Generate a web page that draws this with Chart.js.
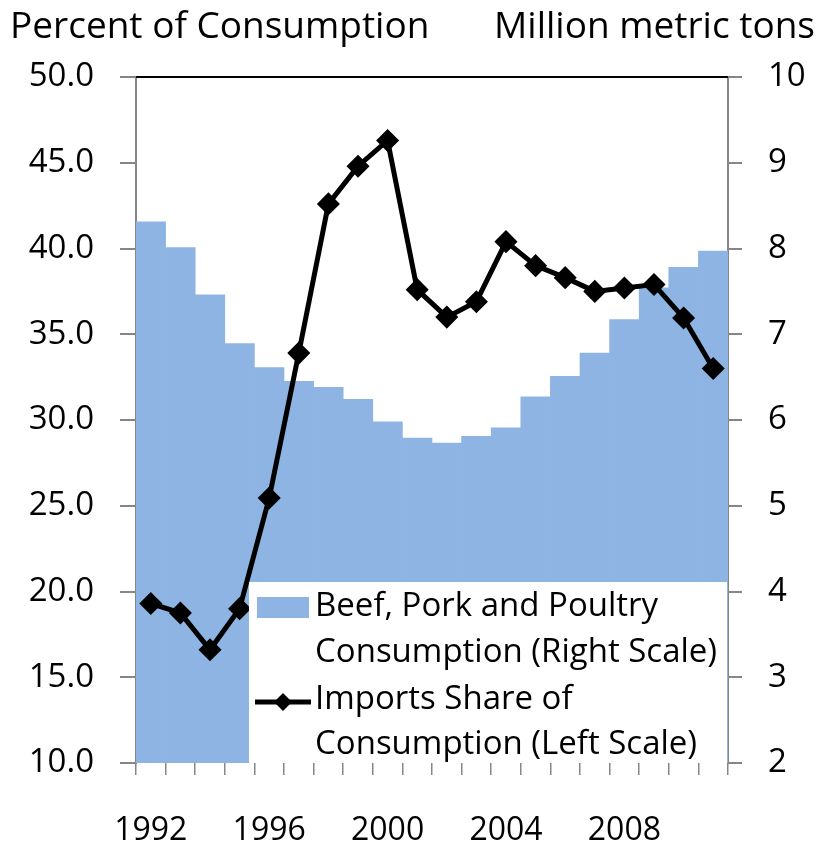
<!DOCTYPE html>
<html>
<head>
<meta charset="utf-8">
<script src="https://cdn.jsdelivr.net/npm/chart.js@4.4.1/dist/chart.umd.min.js"></script>
<style>
  html, body { margin: 0; padding: 0; background: #fff; }
  #wrap { width: 821px; height: 849px; }
</style>
</head>
<body>
<div id="wrap"><canvas id="grafico" width="821" height="849"></canvas></div>
<script>
// años y valores
var years = ['1992','1993','1994','1995','1996','1997','1998','1999','2000','2001',
             '2002','2003','2004','2005','2006','2007','2008','2009','2010','2011'];
// consumo de carne, millones de toneladas (escala derecha)
var consumption = [8.31, 8.01, 7.46, 6.89, 6.61, 6.45, 6.38, 6.24, 5.98, 5.79,
                   5.73, 5.81, 5.91, 6.27, 6.51, 6.78, 7.17, 7.54, 7.78, 7.97];
// importaciones como % del consumo (escala izquierda)
var importsShare = [19.3, 18.75, 16.6, 19.0, 25.45, 33.9, 42.6, 44.8, 46.3, 37.6,
                    36.0, 36.9, 40.4, 39.0, 38.3, 37.5, 37.7, 37.9, 35.95, 33.0];
var leftTitle = 'Percent of Consumption';
var rightTitle = 'Million metric tons';
var legendBars = ['Beef, Pork and Poultry', 'Consumption (Right Scale)'];
var legendLine = ['Imports Share of', 'Consumption (Left Scale)'];

var fuente = "'Open Sans', Lato, sans-serif";
var azul = '#8EB4E3';
var gris = '#868686';

// dibuja títulos, borde superior y la leyenda
var extras = {
    id: 'extras',
    afterDatasetsDraw: function(chart) {
        var ctx = chart.ctx;
        var a = chart.chartArea;
        ctx.save();
        // línea superior
        ctx.strokeStyle = '#000';
        ctx.lineWidth = 2;
        ctx.beginPath();
        ctx.moveTo(a.left, a.top);
        ctx.lineTo(a.right, a.top);
        ctx.stroke();

        // caja de leyenda
        var lx = a.left + 113, ly = a.bottom - 181;
        ctx.fillStyle = '#fff';
        ctx.fillRect(lx, ly, a.right - lx - 1, a.bottom - ly);

        ctx.fillStyle = azul;
        ctx.fillRect(lx + 8, ly + 15, 52, 21);

        ctx.strokeStyle = '#000';
        ctx.lineWidth = 5;
        ctx.beginPath();
        ctx.moveTo(lx + 6, ly + 120);
        ctx.lineTo(lx + 62, ly + 120);
        ctx.stroke();
        ctx.fillStyle = '#000';
        ctx.beginPath();
        var cx = lx + 34, cy = ly + 120, r = 9;
        ctx.moveTo(cx, cy - r);
        ctx.lineTo(cx + r, cy);
        ctx.lineTo(cx, cy + r);
        ctx.lineTo(cx - r, cy);
        ctx.closePath();
        ctx.fill();

        ctx.font = '33px ' + fuente;
        ctx.textBaseline = 'middle';
        ctx.textAlign = 'left';
        ctx.fillText(legendBars[0], lx + 66, ly + 25);
        ctx.fillText(legendBars[1], lx + 66, ly + 71);
        ctx.fillText(legendLine[0], lx + 66, ly + 118);
        ctx.fillText(legendLine[1], lx + 66, ly + 163);
        ctx.restore();
    },
    afterDraw: function(chart) {
        var ctx = chart.ctx;
        ctx.save();
        ctx.fillStyle = '#000';
        ctx.font = '37px ' + fuente;
        ctx.textBaseline = 'middle';
        ctx.textAlign = 'left';
        ctx.fillText(leftTitle, 10, 27);
        ctx.textAlign = 'right';
        ctx.fillText(rightTitle, 815, 27);
        ctx.restore();
    }
};

var config = {
    data: {
        labels: years,
        datasets: [
            {
                type: 'line',
                label: 'Imports Share of Consumption (Left Scale)',
                data: importsShare,
                yAxisID: 'y',
                borderColor: '#000',
                backgroundColor: '#000',
                borderWidth: 5,
                pointStyle: 'rectRot',
                pointRadius: 8,
                pointHoverRadius: 8,
                tension: 0,
                order: 0
            },
            {
                type: 'bar',
                label: 'Beef, Pork and Poultry Consumption (Right Scale)',
                data: consumption,
                yAxisID: 'y1',
                backgroundColor: azul,
                barPercentage: 1.0,
                categoryPercentage: 1.0,
                order: 1
            }
        ]
    },
    options: {
        responsive: false,
        animation: false,
        layout: { padding: { top: 77, left: 0, right: 0, bottom: 0 } },
        plugins: {
            legend: { display: false },
            tooltip: { enabled: false }
        },
        scales: {
            x: {
                offset: true,
                grid: { offset: true, drawOnChartArea: false, color: gris, tickLength: 12, lineWidth: 1.5 },
                border: { display: false },
                ticks: {
                    autoSkip: false,
                    maxRotation: 0,
                    color: '#000',
                    padding: 37,
                    font: { family: fuente, size: 32 },
                    callback: function(v, i) { return i % 4 === 0 ? years[i] : ''; }
                },
                afterFit: function(s) { s.height = 86; }
            },
            y: {
                position: 'left',
                min: 10, max: 50,
                grid: { drawOnChartArea: false, color: gris, tickLength: 16, lineWidth: 2 },
                border: { color: gris, width: 2 },
                ticks: {
                    stepSize: 5,
                    color: '#000',
                    padding: 26,
                    font: { family: fuente, size: 33 },
                    callback: function(v) { return v.toFixed(1); }
                },
                afterFit: function(s) { s.width = 136; }
            },
            y1: {
                position: 'right',
                min: 2, max: 10,
                grid: { drawOnChartArea: false, color: gris, tickLength: 14, lineWidth: 2 },
                border: { color: gris, width: 2 },
                ticks: {
                    stepSize: 1,
                    color: '#000',
                    padding: 26,
                    font: { family: fuente, size: 33 }
                },
                afterFit: function(s) { s.width = 93; }
            }
        }
    },
    plugins: [extras]
};

document.addEventListener('DOMContentLoaded', function() {
    var ctx = document.getElementById('grafico').getContext('2d');
    new Chart(ctx, config);
});
</script>
</body>
</html>
